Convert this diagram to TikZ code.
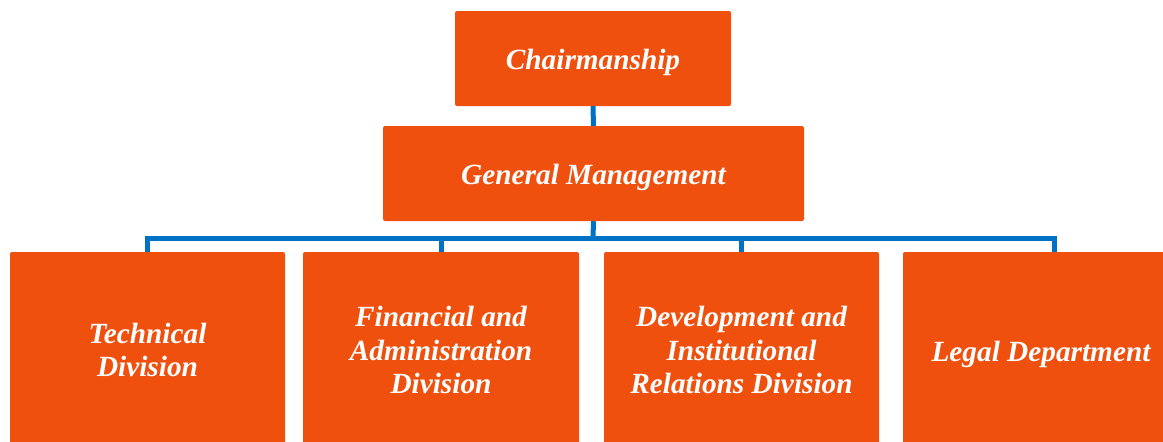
\documentclass[tikz,border=0pt]{standalone}
\usepackage{fontspec}
\setmainfont{Liberation Serif}
\definecolor{boxorange}{RGB}{240,80,14}
\definecolor{lineblue}{RGB}{0,114,198}
\tikzset{>=latex}

\begin{document}
\begin{tikzpicture}[x=1pt,y=-1pt,
    unit/.style={fill=boxorange,rounded corners=2pt,text=white,align=center,
      font=\fontsize{29.3}{33.5}\selectfont\bfseries\itshape,inner sep=0pt},
    oneline/.style={text height=22pt,text depth=0pt},
    link/.style={draw=lineblue,line width=5pt}]
  \useasboundingbox (0,0) rectangle (1163,442);
  \clip (0,0) rectangle (1163,442);
  % top
  \node[unit,oneline,minimum width=276pt,minimum height=95pt] (chair) at (593,58.5) {Chairmanship};
  \node[unit,oneline,minimum width=421pt,minimum height=95pt] (gm) at (593.5,173.5) {General Management};
  % divisions
  \node[unit,minimum width=275pt,minimum height=196pt] (tech) at (147.5,350) {Technical\\Division};
  \node[unit,minimum width=276pt,minimum height=196pt] (fin) at (441,350) {Financial and\\Administration\\Division};
  \node[unit,minimum width=275pt,minimum height=196pt] (dev) at (741.5,350) {Development and\\Institutional\\Relations Division};
  \node[unit,oneline,minimum width=276pt,minimum height=196pt] (legal) at (1041,350) {Legal Department};
  \coordinate (bar) at (593,238);
  % lines
  \draw[link] (chair.south) -- (gm.north);
  \draw[link] (gm.south) -- (bar);
  \draw[link] (bar) -| (tech.north);
  \draw[link] (bar) -| (fin.north);
  \draw[link] (bar) -| (dev.north);
  \draw[link] (bar) -| ([xshift=13pt]legal.north);
\end{tikzpicture}
\end{document}
